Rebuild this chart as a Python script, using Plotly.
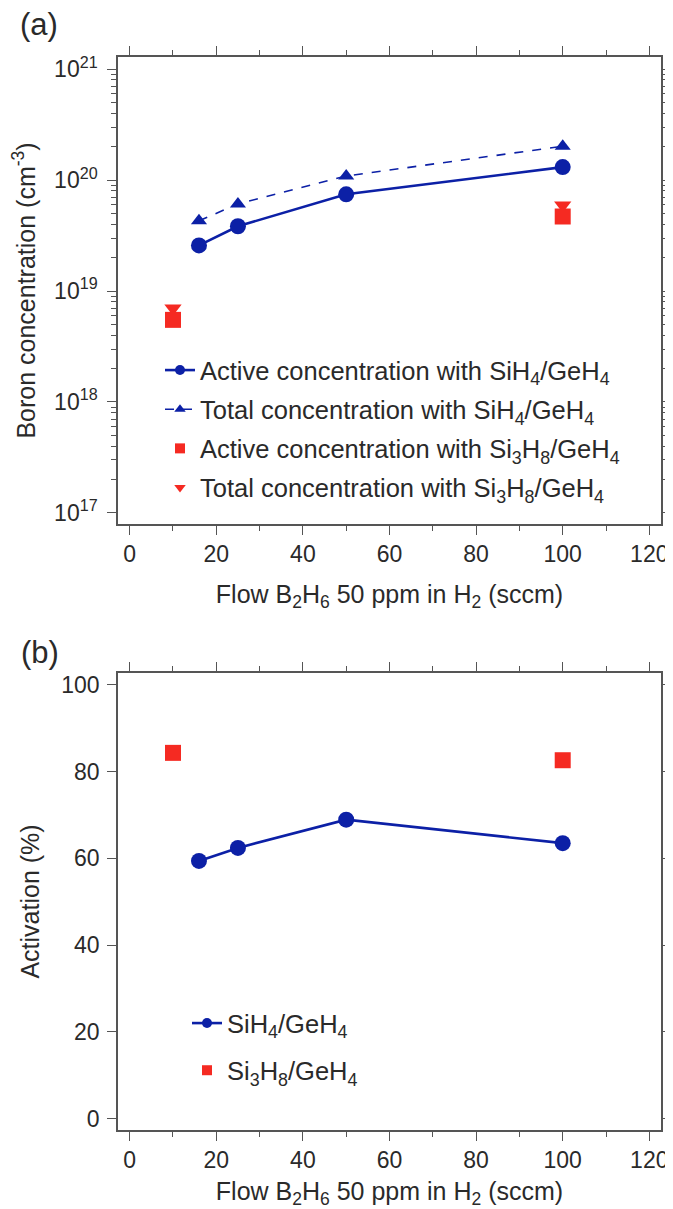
import plotly.graph_objects as go

# ---------------- data ----------------
flow_sih4 = [16, 25, 50, 100]
active_sih4 = [2.58e19, 3.84e19, 7.45e19, 1.31e20]
total_sih4 = [4.3e19, 6.1e19, 1.09e20, 2.02e20]

flow_si3h8 = [10, 100]
active_si3h8 = [5.5e18, 4.7e19]
total_si3h8 = [7.0e18, 5.95e19]

activation_sih4 = [59.4, 62.4, 68.9, 63.5]
activation_si3h8 = [84.3, 82.6]

x_ticks = [0, 20, 40, 60, 80, 100, 120]
log_decades = [17, 18, 19, 20, 21]
act_ticks = [0, 20, 40, 60, 80, 100]

# ---------------- style ----------------
OFF = 8  # page body margin offset
W, H = 673 - OFF, 1209 - OFF
# target screen coordinates
FR_L, FR_R = 118, 661
A_TOP, A_BOT = 57, 524
B_TOP, B_BOT = 673, 1130
ML, MR = FR_L - OFF, W - (FR_R - OFF)
MT, MB = A_TOP - OFF, H - (B_BOT - OFF)

BLUE = "#0c20a6"
RED = "#f52a22"
AXC = "#555555"
TXT = "#2a2a2a"
FONT = "Liberation Sans, Arial, Helvetica, sans-serif"
FS_TICK = 23
FS_TXT = 25
FS_LEG = 25.5

ph = H - MT - MB
pw = W - ML - MR
def py(y):
    return 1 - ((y - OFF) - MT) / ph
def px(x):
    return ((x - OFF) - ML) / pw

fig = go.Figure()

# panel (a)
fig.add_trace(go.Scatter(x=flow_sih4, y=active_sih4, mode="lines+markers",
                         line=dict(color=BLUE, width=2.6),
                         marker=dict(symbol="circle", size=16, color=BLUE),
                         showlegend=False, xaxis="x", yaxis="y"))
fig.add_trace(go.Scatter(x=flow_sih4, y=total_sih4, mode="lines+markers",
                         line=dict(color=BLUE, width=1.6, dash="dash"),
                         marker=dict(symbol="triangle-up", size=14, color=BLUE),
                         showlegend=False, xaxis="x", yaxis="y"))
fig.add_trace(go.Scatter(x=flow_si3h8, y=total_si3h8, mode="markers",
                         marker=dict(symbol="triangle-down", size=15, color=RED),
                         showlegend=False, xaxis="x", yaxis="y"))
fig.add_trace(go.Scatter(x=flow_si3h8, y=active_si3h8, mode="markers",
                         marker=dict(symbol="square", size=16, color=RED),
                         showlegend=False, xaxis="x", yaxis="y"))

# legend proxies (a)
leg_a = [
    ("Active concentration with SiH<sub>4</sub>/GeH<sub>4</sub>", "lines+markers", "circle", "solid", BLUE, 2.6),
    ("Total concentration with SiH<sub>4</sub>/GeH<sub>4</sub>", "lines+markers", "triangle-up", "dash", BLUE, 1.3),
    ("Active concentration with Si<sub>3</sub>H<sub>8</sub>/GeH<sub>4</sub>", "markers", "square", "solid", RED, 0),
    ("Total concentration with Si<sub>3</sub>H<sub>8</sub>/GeH<sub>4</sub>", "markers", "triangle-down", "solid", RED, 0),
]
for i, (name, mode, sym, dash, col, lw) in enumerate(leg_a):
    fig.add_trace(go.Scatter(x=[None], y=[None], mode=mode, name=name,
                             line=dict(color=col, width=max(lw, 0.1), dash=dash),
                             marker=dict(symbol=sym, size=10, color=col),
                             legend="legend", legendgroup="a%d" % i,
                             xaxis="x", yaxis="y"))

# panel (b)
fig.add_trace(go.Scatter(x=flow_sih4, y=activation_sih4, mode="lines+markers",
                         line=dict(color=BLUE, width=2.6),
                         marker=dict(symbol="circle", size=16, color=BLUE),
                         showlegend=False, xaxis="x2", yaxis="y2"))
fig.add_trace(go.Scatter(x=flow_si3h8, y=activation_si3h8, mode="markers",
                         marker=dict(symbol="square", size=16, color=RED),
                         showlegend=False, xaxis="x2", yaxis="y2"))
leg_b = [
    ("SiH<sub>4</sub>/GeH<sub>4</sub>", "lines+markers", "circle", BLUE),
    ("Si<sub>3</sub>H<sub>8</sub>/GeH<sub>4</sub>", "markers", "square", RED),
]
for i, (name, mode, sym, col) in enumerate(leg_b):
    fig.add_trace(go.Scatter(x=[None], y=[None], mode=mode, name=name,
                             line=dict(color=col, width=2.6),
                             marker=dict(symbol=sym, size=10, color=col),
                             legend="legend2", legendgroup="b%d" % i,
                             xaxis="x2", yaxis="y2"))

xcommon = dict(range=[-2.7, 122.7], tickmode="array", tickvals=x_ticks,
               ticks="outside", ticklen=9, tickwidth=1.3, tickcolor=AXC,
               minor=dict(tickmode="linear", tick0=0, dtick=10, ticks="outside",
                          ticklen=5, tickwidth=1.2, tickcolor=AXC, showgrid=False),
               showline=True, linecolor=AXC, linewidth=1.6, mirror="ticks",
               showgrid=False, zeroline=False, automargin=False,
               tickfont=dict(family=FONT, size=FS_TICK, color=TXT),
               title=dict(text="Flow B<sub>2</sub>H<sub>6</sub> 50 ppm in H<sub>2</sub> (sccm)",
                          font=dict(family=FONT, size=FS_TXT, color=TXT), standoff=19))

ya_top, ya_bot = py(A_TOP), py(A_BOT)
yb_top, yb_bot = py(B_TOP), py(B_BOT)

minor_log = [k * 10.0 ** d for d in log_decades[:-1] for k in range(2, 10)]

fig.update_layout(
    width=W, height=H,
    margin=dict(l=ML, r=MR, t=MT, b=MB),
    paper_bgcolor="white", plot_bgcolor="white",
    font=dict(family=FONT, size=FS_TXT, color=TXT),
    xaxis=dict(domain=[0, 1], anchor="y", **xcommon),
    xaxis2=dict(domain=[0, 1], anchor="y2", **xcommon),
    yaxis=dict(domain=[ya_bot, ya_top], anchor="x", type="log",
               range=[16.9, 21.11], tickmode="array",
               tickvals=[10.0 ** d for d in log_decades],
               ticktext=["10<sup>%d</sup>" % d for d in log_decades],
               ticks="outside", ticklen=9, tickwidth=1.3, tickcolor=AXC,
               ticklabelstandoff=5,
               minor=dict(tickmode="array", tickvals=minor_log, ticks="outside",
                          ticklen=5, tickwidth=1.1, tickcolor=AXC, showgrid=False),
               showline=True, linecolor=AXC, linewidth=1.6, mirror="ticks",
               showgrid=False, zeroline=False, automargin=False,
               tickfont=dict(family=FONT, size=FS_TICK, color=TXT),
               title=dict(text="Boron concentration (cm<sup>-3</sup>)",
                          font=dict(family=FONT, size=FS_TXT, color=TXT), standoff=26)),
    yaxis2=dict(domain=[yb_bot, yb_top], anchor="x2",
                range=[-2.6, 102.7], tickmode="array", tickvals=act_ticks,
                ticks="outside", ticklen=9, tickwidth=1.3, tickcolor=AXC,
                ticklabelstandoff=3,
                showline=True, linecolor=AXC, linewidth=1.6, mirror="ticks",
                showgrid=False, zeroline=False, automargin=False,
                tickfont=dict(family=FONT, size=FS_TICK, color=TXT),
                title=dict(text="Activation (%)",
                           font=dict(family=FONT, size=FS_TXT, color=TXT), standoff=14)),
    legend=dict(x=px(160), y=py(347), xanchor="left", yanchor="top",
                bgcolor="rgba(0,0,0,0)", borderwidth=0,
                font=dict(family=FONT, size=FS_LEG, color=TXT),
                tracegroupgap=3, traceorder="grouped", itemsizing="trace"),
    legend2=dict(x=px(187), y=py(1000), xanchor="left", yanchor="top",
                 bgcolor="rgba(0,0,0,0)", borderwidth=0,
                 font=dict(family=FONT, size=FS_LEG, color=TXT),
                 tracegroupgap=11, traceorder="grouped", itemsizing="trace"),
    annotations=[
        dict(text="(a)", x=px(39), y=py(25), xref="paper", yref="paper",
             showarrow=False, font=dict(family=FONT, size=31, color=TXT),
             xanchor="center", yanchor="middle"),
        dict(text="(b)", x=px(40), y=py(652), xref="paper", yref="paper",
             showarrow=False, font=dict(family=FONT, size=31, color=TXT),
             xanchor="center", yanchor="middle"),
    ],
)

fig.write_html("out.html")
